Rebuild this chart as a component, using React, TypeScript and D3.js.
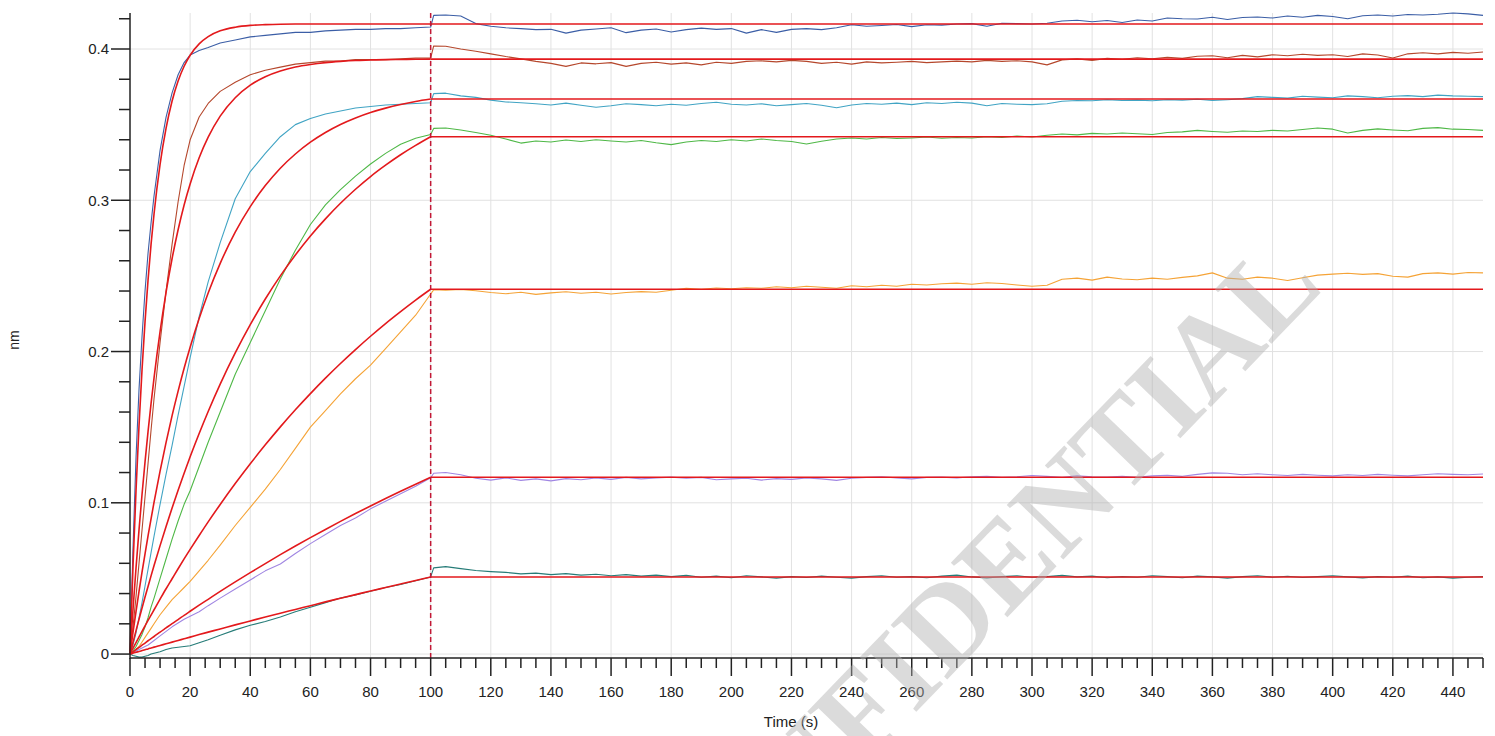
import * as d3 from "d3";

const W = 1495;
const H = 736;

// sample times (s)
const assocTime = [0, 1, 2, 3, 4, 5, 6, 7, 8, 10, 12, 14, 16, 18, 20, 23, 26, 30, 35, 40, 45, 50, 55, 60, 65, 70, 75, 80, 85, 90, 95, 100];
const dissTime = [
  101, 105, 110, 115, 120, 125, 130, 135, 140, 145,
  150, 155, 160, 165, 170, 175, 180, 185, 190, 195,
  200, 205, 210, 215, 220, 225, 230, 235, 240, 245,
  250, 255, 260, 265, 270, 275, 280, 285, 290, 295,
  300, 305, 310, 315, 320, 325, 330, 335, 340, 345,
  350, 355, 360, 365, 370, 375, 380, 385, 390, 395,
  400, 405, 410, 415, 420, 425, 430, 435, 440, 445,
  450,
];
const fitDissTime = [100, 450];

const xMajorTicks = [0, 20, 40, 60, 80, 100, 120, 140, 160, 180, 200, 220, 240, 260, 280, 300, 320, 340, 360, 380, 400, 420, 440];
const yMajorTicks = [0, 0.1, 0.2, 0.3, 0.4];
const yTickLabels = ["0", "0.1", "0.2", "0.3", "0.4"];

// raw sensorgrams, association phase (nm)
const blueAssoc = [0, 0.07, 0.13, 0.175, 0.21, 0.24, 0.265, 0.285, 0.303, 0.333, 0.355, 0.371, 0.383, 0.391, 0.396, 0.399, 0.401, 0.404, 0.406, 0.408, 0.409, 0.41, 0.411, 0.411, 0.412, 0.4125, 0.413, 0.413, 0.4135, 0.4135, 0.414, 0.4145];
const brownAssoc = [0, 0.018, 0.038, 0.06, 0.082, 0.104, 0.126, 0.148, 0.169, 0.206, 0.24, 0.271, 0.299, 0.323, 0.34, 0.355, 0.364, 0.372, 0.378, 0.383, 0.386, 0.388, 0.39, 0.391, 0.392, 0.392, 0.393, 0.393, 0.393, 0.3935, 0.394, 0.394];
const cyanAssoc = [0, 0.006, 0.014, 0.024, 0.034, 0.045, 0.056, 0.067, 0.078, 0.099, 0.119, 0.138, 0.158, 0.177, 0.196, 0.223, 0.246, 0.272, 0.301, 0.319, 0.331, 0.342, 0.35, 0.354, 0.357, 0.359, 0.361, 0.362, 0.363, 0.3635, 0.364, 0.3645];
const greenAssoc = [0, 0.002, 0.005, 0.009, 0.013, 0.018, 0.024, 0.031, 0.037, 0.05, 0.063, 0.076, 0.088, 0.099, 0.108, 0.124, 0.14, 0.16, 0.185, 0.206, 0.227, 0.248, 0.267, 0.284, 0.297, 0.307, 0.316, 0.324, 0.331, 0.337, 0.341, 0.3435];
const orangeAssoc = [0, 0.001, 0.003, 0.005, 0.008, 0.011, 0.014, 0.017, 0.02, 0.026, 0.031, 0.036, 0.04, 0.044, 0.048, 0.055, 0.062, 0.072, 0.085, 0.097, 0.109, 0.122, 0.136, 0.15, 0.161, 0.172, 0.182, 0.191, 0.202, 0.213, 0.224, 0.238];
const purpleAssoc = [0, 0.001, 0.002, 0.003, 0.004, 0.005, 0.006, 0.0075, 0.009, 0.012, 0.015, 0.018, 0.0205, 0.023, 0.025, 0.028, 0.032, 0.037, 0.043, 0.049, 0.055, 0.0595, 0.0665, 0.073, 0.079, 0.085, 0.09, 0.096, 0.101, 0.106, 0.111, 0.1165];
const tealAssoc = [0, -0.001, -0.0015, -0.002, -0.002, -0.0015, -0.001, 0, 0.0005, 0.0015, 0.003, 0.004, 0.0045, 0.005, 0.0055, 0.0075, 0.0095, 0.0125, 0.016, 0.019, 0.0215, 0.0245, 0.028, 0.031, 0.034, 0.037, 0.039, 0.0415, 0.044, 0.046, 0.0485, 0.051];

// raw sensorgrams, dissociation phase (nm)
const blueDiss = [
  0.4222, 0.4225, 0.4218, 0.4168, 0.415, 0.414, 0.4135, 0.4128, 0.413, 0.4105,
  0.4125, 0.4132, 0.414, 0.4108, 0.4125, 0.4132, 0.4112, 0.4128, 0.4138, 0.413,
  0.4135, 0.4105, 0.4128, 0.411, 0.413, 0.4135, 0.4128, 0.414, 0.416, 0.415,
  0.4155, 0.4162, 0.4148, 0.416, 0.4158, 0.4165, 0.4168, 0.415, 0.417, 0.4168,
  0.4165, 0.417, 0.4185, 0.419, 0.418, 0.4188, 0.4175, 0.4192, 0.4185, 0.4205,
  0.42, 0.4198, 0.421, 0.4195, 0.4208, 0.4212, 0.4205, 0.4218, 0.421, 0.4222,
  0.4215, 0.42, 0.422, 0.4225, 0.4218, 0.4228, 0.4225, 0.423, 0.4238, 0.4232,
  0.4222,
];
const brownDiss = [
  0.402, 0.4018, 0.4, 0.3985, 0.3968, 0.395, 0.3935, 0.3918, 0.3905, 0.3885,
  0.3908, 0.3902, 0.391, 0.3885, 0.3905, 0.3912, 0.39, 0.3908, 0.3895, 0.3912,
  0.3905, 0.3918, 0.3922, 0.3915, 0.3925, 0.3918, 0.3905, 0.3912, 0.39, 0.3915,
  0.3908, 0.3912, 0.3918, 0.391, 0.3915, 0.392, 0.3915, 0.3925, 0.3918, 0.3922,
  0.3915, 0.3895, 0.3928, 0.3935, 0.3925, 0.3938, 0.3932, 0.3942, 0.3935, 0.3945,
  0.3938, 0.3952, 0.3955, 0.3942, 0.3958, 0.3948, 0.3962, 0.3955, 0.3965, 0.3958,
  0.3962, 0.395, 0.3968, 0.396, 0.394, 0.3968, 0.3975, 0.3968, 0.3978, 0.3972,
  0.398,
];
const cyanDiss = [
  0.3705, 0.3708, 0.369, 0.368, 0.3662, 0.365, 0.3645, 0.3638, 0.363, 0.3642,
  0.3628, 0.3615, 0.3625, 0.3638, 0.3632, 0.3625, 0.3635, 0.3628, 0.364, 0.3648,
  0.3635, 0.363, 0.3638, 0.3625, 0.3632, 0.364, 0.3628, 0.3612, 0.363, 0.364,
  0.3635, 0.3642, 0.3632, 0.3645, 0.364, 0.3648, 0.3642, 0.3625, 0.364, 0.3635,
  0.3632, 0.3638, 0.3655, 0.366, 0.3658, 0.3665, 0.366, 0.3662, 0.3658, 0.3665,
  0.3662, 0.3668, 0.366, 0.3665, 0.3672, 0.3685, 0.368, 0.3675, 0.3688, 0.3682,
  0.3678, 0.369, 0.3685, 0.3678, 0.3688, 0.3692, 0.3685, 0.3695, 0.369, 0.3688,
  0.3685,
];
const greenDiss = [
  0.3475, 0.3478, 0.3465, 0.3448, 0.343, 0.3405, 0.3378, 0.3392, 0.3385, 0.3398,
  0.3388, 0.34, 0.3392, 0.3385, 0.3395, 0.338, 0.3368, 0.3385, 0.3395, 0.3388,
  0.34, 0.3392, 0.3405, 0.3395, 0.3388, 0.3372, 0.339, 0.3405, 0.3412, 0.3405,
  0.3415, 0.3408, 0.3412, 0.3418, 0.341, 0.3415, 0.3412, 0.342, 0.3415, 0.3425,
  0.3418, 0.343, 0.3438, 0.3432, 0.3442, 0.3438, 0.3445, 0.344, 0.3435, 0.3448,
  0.3452, 0.3462, 0.3455, 0.345, 0.3458, 0.3455, 0.3462, 0.3458, 0.3468, 0.3478,
  0.347, 0.3445, 0.3462, 0.3472, 0.3465, 0.346, 0.3475, 0.348, 0.347, 0.3468,
  0.3462,
];
const orangeDiss = [
  0.2408, 0.2405, 0.241, 0.2402, 0.239, 0.2382, 0.2392, 0.2378, 0.2388, 0.2395,
  0.2385, 0.2392, 0.238, 0.239, 0.2396, 0.2392, 0.2405, 0.2418, 0.2412, 0.242,
  0.2415, 0.2422, 0.2418, 0.2428, 0.2422, 0.2432, 0.2425, 0.2418, 0.2435, 0.2428,
  0.2438, 0.2432, 0.2445, 0.244, 0.2448, 0.2452, 0.2445, 0.2455, 0.245, 0.244,
  0.2432, 0.2438, 0.2478, 0.2485, 0.2472, 0.2492, 0.248, 0.2475, 0.2485, 0.2478,
  0.249, 0.25, 0.252, 0.2485, 0.2478, 0.2492, 0.2485, 0.247, 0.2488, 0.2505,
  0.2512, 0.2518, 0.251, 0.2515, 0.2498, 0.2492, 0.2515, 0.252, 0.2512, 0.2522,
  0.252,
];
const purpleDiss = [
  0.1195, 0.12, 0.1185, 0.1162, 0.115, 0.1165, 0.1148, 0.1158, 0.1145, 0.116,
  0.1152, 0.1165, 0.1155, 0.1168, 0.1158, 0.1165, 0.117, 0.1162, 0.1168, 0.1152,
  0.1158, 0.1162, 0.115, 0.116, 0.1155, 0.1165, 0.1158, 0.1148, 0.1162, 0.1168,
  0.1172, 0.1165, 0.1158, 0.1168, 0.117, 0.1165, 0.1172, 0.1175, 0.1168, 0.1172,
  0.118, 0.1175, 0.1168, 0.1178, 0.1172, 0.117, 0.1175, 0.1168, 0.1178, 0.1182,
  0.1175, 0.1188, 0.1198, 0.1195, 0.1185, 0.1192, 0.1185, 0.118, 0.1188, 0.1182,
  0.1178, 0.1185, 0.118, 0.1188, 0.1182, 0.1178, 0.1185, 0.1192, 0.1188, 0.1185,
  0.119,
];
const tealDiss = [
  0.057, 0.0578, 0.0565, 0.0552, 0.0545, 0.054, 0.053, 0.0535, 0.0525, 0.0532,
  0.0522, 0.0528, 0.0518, 0.0525, 0.0515, 0.0522, 0.0512, 0.052, 0.0508, 0.0515,
  0.0505, 0.0518, 0.051, 0.0502, 0.0512, 0.0506, 0.0515, 0.0508, 0.0502, 0.0512,
  0.0518, 0.0508, 0.0512, 0.0505, 0.0515, 0.0522, 0.051, 0.0504, 0.0512, 0.0518,
  0.0508, 0.0512, 0.052, 0.051, 0.0515, 0.0505, 0.0512, 0.0508, 0.0518, 0.0512,
  0.0505, 0.0515, 0.051, 0.0502, 0.0512, 0.0518, 0.0508, 0.0514, 0.0506, 0.0512,
  0.0518, 0.051, 0.0504, 0.0512, 0.0508, 0.0515, 0.0505, 0.051, 0.0502, 0.0508,
  0.0512,
];

// fitted curves, association phase (nm)
const blueFit = [0, 0.058, 0.108, 0.151, 0.188, 0.2198, 0.2472, 0.2708, 0.2911, 0.3237, 0.3477, 0.3656, 0.3788, 0.3886, 0.3959, 0.4034, 0.4082, 0.412, 0.4144, 0.4156, 0.4161, 0.4164, 0.4165, 0.4165, 0.4165, 0.4165, 0.4165, 0.4165, 0.4165, 0.4165, 0.4165, 0.4165];
const brownFit = [0, 0.0295, 0.0569, 0.0821, 0.1055, 0.1271, 0.1471, 0.1656, 0.1826, 0.2131, 0.2392, 0.2615, 0.2805, 0.2969, 0.3108, 0.3281, 0.3417, 0.3556, 0.3678, 0.3761, 0.3817, 0.3855, 0.3881, 0.3898, 0.391, 0.3918, 0.3924, 0.3927, 0.393, 0.3931, 0.3932, 0.3933];
const cyanFit = [0, 0.0143, 0.0281, 0.0414, 0.0541, 0.0663, 0.0781, 0.0894, 0.1004, 0.121, 0.14, 0.1576, 0.1738, 0.1889, 0.2028, 0.2218, 0.2387, 0.2583, 0.2789, 0.2958, 0.3097, 0.3212, 0.3306, 0.3384, 0.3448, 0.3501, 0.3544, 0.358, 0.3609, 0.3633, 0.3653, 0.3669];
const greenFit = [0, 0.0078, 0.0155, 0.023, 0.0304, 0.0377, 0.0447, 0.0517, 0.0585, 0.0717, 0.0844, 0.0966, 0.1083, 0.1196, 0.1304, 0.1458, 0.1604, 0.1785, 0.1991, 0.2178, 0.2347, 0.25, 0.2638, 0.2764, 0.2877, 0.298, 0.3073, 0.3157, 0.3232, 0.3301, 0.3363, 0.342];
const orangeFit = [0, 0.0038, 0.0076, 0.0113, 0.015, 0.0186, 0.0222, 0.0258, 0.0293, 0.0363, 0.0432, 0.0498, 0.0564, 0.0629, 0.0692, 0.0784, 0.0874, 0.0989, 0.1127, 0.1258, 0.1383, 0.1502, 0.1615, 0.1722, 0.1824, 0.1921, 0.2013, 0.2101, 0.2185, 0.2264, 0.234, 0.2412];
const purpleFit = [0, 0.0015, 0.003, 0.0044, 0.0059, 0.0073, 0.0088, 0.0102, 0.0116, 0.0145, 0.0173, 0.0201, 0.0228, 0.0256, 0.0283, 0.0323, 0.0362, 0.0414, 0.0477, 0.0538, 0.0598, 0.0657, 0.0714, 0.077, 0.0824, 0.0877, 0.0929, 0.0979, 0.1028, 0.1076, 0.1123, 0.1169];
const tealFit = [0, 0.0006, 0.0012, 0.0017, 0.0023, 0.0029, 0.0034, 0.004, 0.0046, 0.0057, 0.0068, 0.0079, 0.009, 0.0101, 0.0112, 0.0129, 0.0145, 0.0166, 0.0193, 0.0219, 0.0245, 0.027, 0.0295, 0.032, 0.0345, 0.0369, 0.0393, 0.0417, 0.044, 0.0463, 0.0486, 0.0509];

// fitted curves, dissociation phase (nm)
const blueFitDiss = [0.4165, 0.4165];
const brownFitDiss = [0.3933, 0.3933];
const cyanFitDiss = [0.3669, 0.3669];
const greenFitDiss = [0.342, 0.342];
const orangeFitDiss = [0.2412, 0.2412];
const purpleFitDiss = [0.1169, 0.1169];
const tealFitDiss = [0.0509, 0.0509];

const series = [
  { color: "#3b5ea6", assoc: blueAssoc, diss: blueDiss, fit: blueFit, fitDiss: blueFitDiss },
  { color: "#b5472c", assoc: brownAssoc, diss: brownDiss, fit: brownFit, fitDiss: brownFitDiss },
  { color: "#41a4c4", assoc: cyanAssoc, diss: cyanDiss, fit: cyanFit, fitDiss: cyanFitDiss },
  { color: "#4fb847", assoc: greenAssoc, diss: greenDiss, fit: greenFit, fitDiss: greenFitDiss },
  { color: "#f5a336", assoc: orangeAssoc, diss: orangeDiss, fit: orangeFit, fitDiss: orangeFitDiss },
  { color: "#a086e2", assoc: purpleAssoc, diss: purpleDiss, fit: purpleFit, fitDiss: purpleFitDiss },
  { color: "#267c78", assoc: tealAssoc, diss: tealDiss, fit: tealFit, fitDiss: tealFitDiss },
];

const FONT = "'Liberation Sans', Arial, sans-serif";

export default function App() {
  const x = d3.scaleLinear().domain([0, 450]).range([130, 1483]);
  const y = d3.scaleLinear().domain([-0.0026, 0.4238]).range([658, 13]);
  const [x0, x1] = x.range();
  const [yb, yt] = y.range();

  const smooth = d3
    .line<[number, number]>()
    .x((d) => x(d[0]))
    .y((d) => y(d[1]))
    .curve(d3.curveMonotoneX);
  const straight = d3
    .line<[number, number]>()
    .x((d) => x(d[0]))
    .y((d) => y(d[1]));

  const xMinor = x.ticks(90).filter((t) => t % 20 !== 0);
  const yMinor = y.ticks(20).filter((t) => Math.abs(t * 10 - Math.round(t * 10)) > 1e-6 && t >= 0);

  return (
    <div style={{ position: "absolute", left: 0, top: 0, background: "#fff" }}>
      <svg width={W} height={H} style={{ display: "block" }}>
        <rect width={W} height={H} fill="#fff" />

        {/* grid */}
        <g stroke="#e2e2e2" strokeWidth={1}>
          {xMajorTicks
            .filter((t) => t > 0)
            .map((t) => (
              <line key={"gx" + t} x1={x(t)} x2={x(t)} y1={yt} y2={yb} />
            ))}
          {yMajorTicks.map((t) => (
            <line key={"gy" + t} x1={x0} x2={x1} y1={y(t)} y2={y(t)} />
          ))}
        </g>

        {/* raw traces */}
        <g fill="none" strokeWidth={1.1} strokeLinejoin="round">
          {series.map((s, i) => {
            const pts: [number, number][] = assocTime
              .map((t, j) => [t, s.assoc[j]] as [number, number])
              .concat(dissTime.map((t, j) => [t, s.diss[j]] as [number, number]));
            return <path key={"r" + i} d={straight(pts) || ""} stroke={s.color} />;
          })}
        </g>

        {/* fitted curves */}
        <g fill="none" stroke="#e3191c" strokeWidth={1.6}>
          {series.map((s, i) => {
            const a: [number, number][] = assocTime.map((t, j) => [t, s.fit[j]]);
            const b: [number, number][] = fitDissTime.map((t, j) => [t, s.fitDiss[j]]);
            return (
              <g key={"f" + i}>
                <path d={smooth(a) || ""} />
                <path d={straight(b) || ""} />
              </g>
            );
          })}
        </g>

        {/* association / dissociation boundary */}
        <line
          x1={x(100)}
          x2={x(100)}
          y1={yt}
          y2={yb}
          stroke="#c21836"
          strokeWidth={1.5}
          strokeDasharray="5,3"
        />

        {/* axes */}
        <g stroke="#222" strokeWidth={1.5}>
          <line x1={x0} x2={x0} y1={yt} y2={yb + 1} />
          <line x1={x0} x2={x1} y1={yb} y2={yb} />
          {xMajorTicks.map((t) => (
            <line key={"xt" + t} x1={x(t)} x2={x(t)} y1={yb} y2={yb + 18} />
          ))}
          {xMinor.map((t) => (
            <line key={"xm" + t} x1={x(t)} x2={x(t)} y1={yb} y2={yb + 10} />
          ))}
          {yMajorTicks.map((t) => (
            <line key={"yt" + t} x1={x0 - 19} x2={x0} y1={y(t)} y2={y(t)} />
          ))}
          {yMinor.map((t) => (
            <line key={"ym" + t} x1={x0 - 11} x2={x0} y1={y(t)} y2={y(t)} />
          ))}
        </g>

        <g fontFamily={FONT} fontSize={15} fill="#222">
          {xMajorTicks.map((t) => (
            <text key={"xl" + t} x={x(t)} y={697} textAnchor="middle">
              {t}
            </text>
          ))}
          {yMajorTicks.map((t, i) => (
            <text key={"yl" + t} x={x0 - 21} y={y(t)} dy="0.36em" textAnchor="end">
              {yTickLabels[i]}
            </text>
          ))}
          <text x={791} y={727} textAnchor="middle">
            Time (s)
          </text>
          <text transform="translate(19,340) rotate(-90)" textAnchor="middle" fontSize={14}>
            nm
          </text>
        </g>

        {/* watermark */}
        <text
          transform="translate(973,596) rotate(-46)"
          textAnchor="middle"
          dy="0.33em"
          fontFamily="'Liberation Serif', 'Times New Roman', serif"
          fontWeight="bold"
          fontSize={120}
          fill="#b0b0b0"
          fillOpacity={0.45}
        >
          CONFIDENTIAL
        </text>
      </svg>
    </div>
  );
}
